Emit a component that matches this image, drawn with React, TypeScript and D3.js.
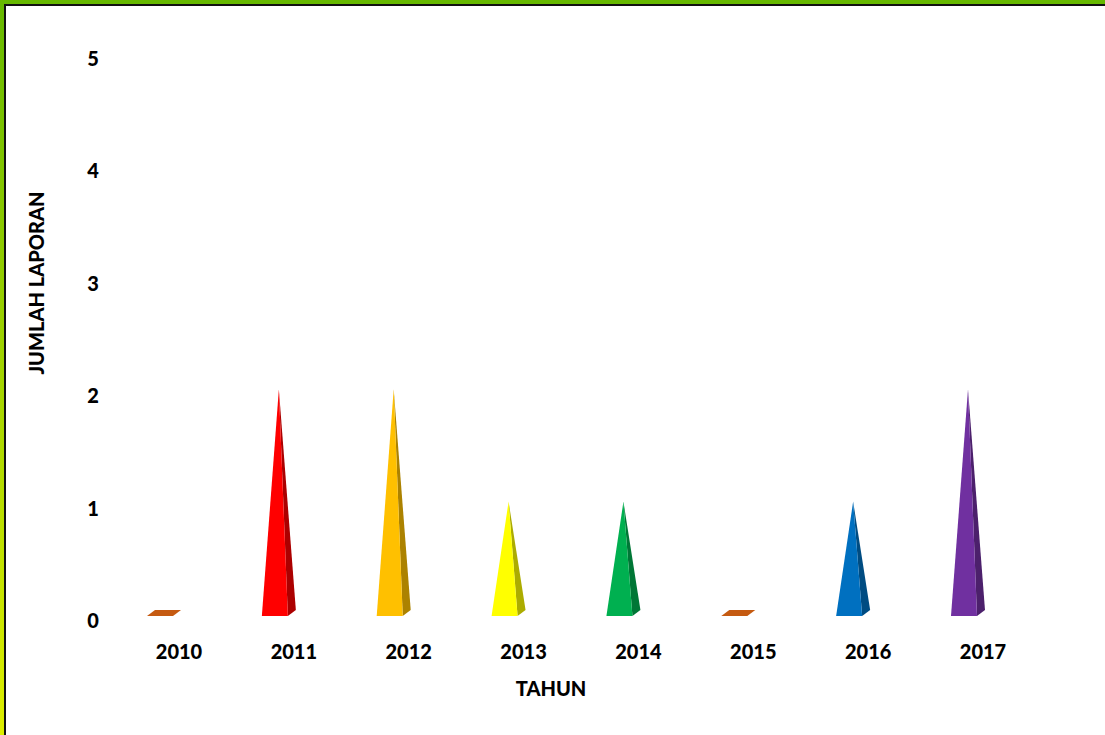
import React from "react";
import * as d3 from "d3";

const years = ["2010", "2011", "2012", "2013", "2014", "2015", "2016", "2017"];
const values = [0, 2, 2, 1, 1, 0, 1, 2];
const colors = ["#C55A11", "#FF0000", "#FFC000", "#FFFF00", "#00B050", "#C55A11", "#0070C0", "#7030A0"];
const yTicks = [0, 1, 2, 3, 4, 5];
const yTitle = "JUMLAH LAPORAN";
const xTitle = "TAHUN";

const W = 1105;
const H = 735;
const FONT = "Lato, 'Open Sans', sans-serif";

export default function App() {
  const x = d3.scalePoint<string>().domain(years).range([179, 983]);
  const y = d3.scaleLinear().domain([0, 5]).range([614, 52]);
  const halfW = 13;
  const dx = 8;
  const dy = 6;
  const line = d3.line();

  return (
    <svg width={W} height={H} style={{ position: "absolute", left: 0, top: 0 }}>
      <defs>
        <linearGradient id="frame" x1="0" y1="0" x2="0" y2="1">
          <stop offset="0" stopColor="#66B800" />
          <stop offset="1" stopColor="#DDEE00" />
        </linearGradient>
      </defs>
      <rect x={0} y={0} width={W} height={H} fill="url(#frame)" />
      <rect x={4} y={4} width={W} height={H} fill="#111" />
      <rect x={6} y={6} width={W} height={H} fill="#fff" />

      {yTicks.map((t) => (
        <text key={t} x={93} y={y(t) + 6} textAnchor="middle" dominantBaseline="central"
          fontFamily={FONT} fontWeight={900} fontSize={20} fill="#000">{t}</text>
      ))}
      {years.map((yr) => (
        <text key={yr} x={x(yr)!} y={651} textAnchor="middle" dominantBaseline="central"
          fontFamily={FONT} fontWeight={900} fontSize={20} fill="#000">{yr}</text>
      ))}
      <text x={551} y={688} textAnchor="middle" dominantBaseline="central"
        fontFamily={FONT} fontWeight={900} fontSize={20} fill="#000">{xTitle}</text>
      <text transform="translate(36,283) rotate(-90)" textAnchor="middle" dominantBaseline="central"
        fontFamily={FONT} fontWeight={900} fontSize={20} fill="#000">{yTitle}</text>

      {years.map((yr, i) => {
        const cx = x(yr)! - 19;
        const base = y(0);
        const v = values[i];
        const c = colors[i];
        const dark = d3.color(c)!.darker(1.1).formatHex();
        const FL: [number, number] = [cx - halfW, base + 2];
        const FR: [number, number] = [cx + halfW, base + 2];
        const BR: [number, number] = [cx + halfW + dx, base + 2 - dy];
        const BL: [number, number] = [cx - halfW + dx, base + 2 - dy];
        if (v === 0) {
          return <path key={yr} d={line([FL, FR, BR, BL])! + "Z"} fill={c} />;
        }
        const apex: [number, number] = [cx + dx / 2, y(v)];
        return (
          <g key={yr}>
            <path d={line([FR, BR, apex])! + "Z"} fill={dark} />
            <path d={line([FL, FR, apex])! + "Z"} fill={c} />
          </g>
        );
      })}
    </svg>
  );
}
